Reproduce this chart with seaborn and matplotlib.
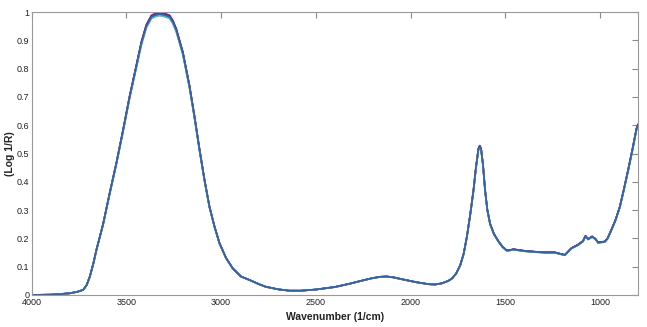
import numpy as np
import pandas as pd
import matplotlib
matplotlib.use("Agg")
import matplotlib.pyplot as plt
import seaborn as sns

# Spectrum (wavenumber 1/cm, log 1/R)
wavenumber = [4000, 3900, 3853, 3798, 3760, 3728, 3710, 3693, 3675, 3658, 3623,
              3588, 3553, 3518, 3483, 3447, 3421, 3395, 3368, 3345, 3325, 3300,
              3272, 3255, 3237, 3202, 3167, 3141, 3114, 3088, 3062, 3035, 3009,
              2974, 2939, 2895, 2851, 2800, 2765, 2700, 2640, 2580, 2502, 2400,
              2326, 2260, 2204, 2160, 2125, 2090, 2063, 2028, 1970, 1905, 1870,
              1835, 1800, 1782, 1760, 1738, 1720, 1703, 1685, 1668, 1655, 1642,
              1635, 1628, 1618, 1607, 1595, 1580, 1560, 1537, 1515, 1493, 1475,
              1458, 1396, 1340, 1291, 1239, 1210, 1186, 1170, 1151, 1116, 1090,
              1077, 1063, 1042, 1025, 1010, 975, 960, 940, 918, 896, 875, 852,
              830, 808, 800]
absorbance = [0.0, 0.001, 0.003, 0.006, 0.011, 0.018, 0.035, 0.065, 0.11, 0.16, 0.25,
              0.36, 0.465, 0.58, 0.70, 0.81, 0.89, 0.95, 0.983, 0.99, 0.993, 0.99,
              0.983, 0.965, 0.936, 0.854, 0.736, 0.63, 0.512, 0.406, 0.312, 0.241, 0.183,
              0.13, 0.094, 0.065, 0.053, 0.038, 0.029, 0.02, 0.015, 0.015, 0.019, 0.028,
              0.039, 0.05, 0.059, 0.064, 0.065, 0.062, 0.058, 0.053, 0.045, 0.038, 0.037,
              0.041, 0.05, 0.058, 0.075, 0.105, 0.145, 0.205, 0.285, 0.37, 0.45, 0.515,
              0.525, 0.515, 0.46, 0.37, 0.3, 0.25, 0.215, 0.19, 0.17, 0.157, 0.158,
              0.161, 0.155, 0.152, 0.15, 0.15, 0.145, 0.141, 0.152, 0.165, 0.177, 0.19,
              0.208, 0.197, 0.206, 0.198, 0.185, 0.188, 0.2, 0.23, 0.265, 0.31, 0.37, 0.44,
              0.51, 0.585, 0.6]

# Scans that overlap; small per-scan gain read from the spread at the peaks
samples = ["s1", "s2", "s3", "s4", "s5", "s6", "s7"]
gains = [1.004, 0.998, 1.006, 0.996, 1.002, 0.994, 1.0]
colors = ["#D95319", "#EDB120", "#7E2F8E", "#77AC30", "#A2142F", "#4DBEEE", "#2E62B0"]

frames = []
for s, g in zip(samples, gains):
    frames.append(pd.DataFrame({"wn": wavenumber,
                                "val": np.array(absorbance) * g,
                                "sample": s}))
df = pd.concat(frames, ignore_index=True)

sns.set_style("white")
plt.rcParams["font.family"] = ["Liberation Sans", "DejaVu Sans"]

fig = plt.figure(figsize=(6.47, 3.27), dpi=100)
ax = fig.add_axes([0.049, 0.098, 0.937, 0.865])

sns.lineplot(data=df, x="wn", y="val", hue="sample", palette=colors,
             linewidth=1.2, legend=False, ax=ax, sort=False)

ax.set_xlim(4000, 800)
ax.set_ylim(0, 1)
ax.set_xticks([4000, 3500, 3000, 2500, 2000, 1500, 1000])
ax.set_yticks([0, 0.1, 0.2, 0.3, 0.4, 0.5, 0.6, 0.7, 0.8, 0.9, 1])
ax.set_yticklabels(["0", "0.1", "0.2", "0.3", "0.4", "0.5", "0.6", "0.7", "0.8", "0.9", "1"])
ax.tick_params(direction="in", length=4, width=0.8, color="#888888",
               labelsize=6.5, labelcolor="#222222", top=True, right=True, pad=1.5)
ax.tick_params(axis="x", pad=2.5)
for sp in ax.spines.values():
    sp.set_color("#999999")
    sp.set_linewidth(0.8)

ax.set_xlabel("Wavenumber (1/cm)", fontsize=7.5, fontweight="bold", color="#222222", labelpad=3)
ax.set_ylabel("(Log 1/R)", fontsize=7.5, fontweight="bold", color="#222222")
ax.yaxis.set_label_coords(-0.028, 0.5)

fig.savefig("out.png", dpi=100)
